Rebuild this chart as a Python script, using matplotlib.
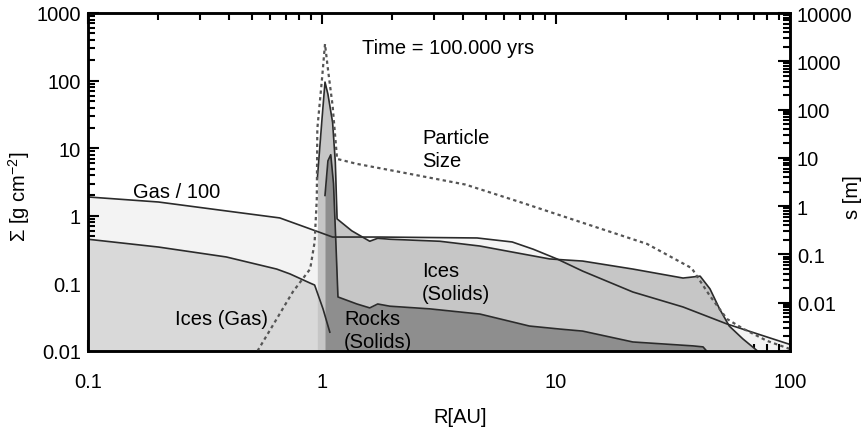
import numpy as np
import matplotlib.pyplot as plt
from matplotlib.ticker import LogLocator, NullFormatter, FixedLocator, FixedFormatter

plt.rcParams['font.family'] = ['Liberation Sans', 'DejaVu Sans']
plt.rcParams['mathtext.fontset'] = 'custom'
plt.rcParams['mathtext.rm'] = 'Liberation Sans'
plt.rcParams['mathtext.default'] = 'regular'

FS = 14.5

# gas surface density / 100
r_gas = [0.1, 0.2, 0.39, 0.66, 0.89, 1.11, 1.77, 4.6, 6.5, 8.0, 10.1, 13.0, 21.3, 34.9, 53.8, 79.8, 100]
sig_gas = [1.90, 1.60, 1.18, 0.93, 0.64, 0.485, 0.485, 0.47, 0.41, 0.32, 0.23, 0.152, 0.0746,
           0.0448, 0.0251, 0.0161, 0.0125]

# ices in the gas phase (inside the snow line)
r_ice_gas = [0.1, 0.2, 0.39, 0.64, 0.73, 0.89, 0.93, 1.01, 1.08]
sig_ice_gas = [0.45, 0.345, 0.246, 0.163, 0.138, 0.101, 0.0946, 0.042, 0.019]

# ices as solids (spike at the snow line, then the outer disk)
r_ice_sol = [0.955, 1.0, 1.03, 1.06, 1.11, 1.14, 1.16, 1.34, 1.60, 1.73, 1.95, 3.19, 4.73, 6.5,
             9.4, 13.0, 21.3, 34.9, 41.3, 45.5, 50.0, 55.0, 62.9, 76.3, 85]
sig_ice_sol = [3.5, 27, 95, 63, 24, 6.2, 0.9, 0.60, 0.42, 0.465, 0.45, 0.42, 0.357, 0.291,
               0.23, 0.214, 0.163, 0.12, 0.128, 0.083, 0.042, 0.0234, 0.0151, 0.0087, 0.004]

# rocks (solids)
r_rock = [1.03, 1.06, 1.09, 1.12, 1.15, 1.17, 1.41, 1.60, 1.73, 1.95, 2.89, 4.73, 7.7, 10.4,
          13.0, 21.3, 38.5, 42.5, 45.5, 48]
sig_rock = [2.0, 6.5, 8.0, 3.0, 0.3, 0.063, 0.0496, 0.0434, 0.0496, 0.046, 0.042, 0.0352, 0.0234,
            0.0211, 0.0197, 0.0136, 0.0119, 0.0115, 0.0088, 0.005]

# particle size [m]
r_size = [0.53, 0.64, 0.75, 0.89, 0.93, 0.95, 0.955, 1.0, 1.03, 1.06, 1.11, 1.16, 1.41, 2.15,
          4.1, 7.0, 12.7, 24.5, 38.0, 45.5, 53.8, 63, 79.8, 100]
size = [0.001, 0.0046, 0.0167, 0.05, 0.18, 1.41, 40, 430, 2280, 690, 120, 9.5, 7.5, 5.1,
        2.8, 1.22, 0.47, 0.165, 0.052, 0.0138, 0.0046, 0.0029, 0.00162, 0.0011]

fig = plt.figure(figsize=(8.65, 4.35), dpi=100)
ax = fig.add_axes([88 / 865, 1 - 352 / 435, 702 / 865, 338 / 435])

ax.fill_between(r_gas, 1e-4, sig_gas, color='#f3f3f3', lw=0, zorder=1)
ax.fill_between(r_ice_gas, 1e-4, sig_ice_gas, color='#d9d9d9', lw=0, zorder=2)
ax.fill_between(r_ice_sol, 1e-4, sig_ice_sol, color='#c6c6c6', lw=0, zorder=3)
ax.fill_between(r_rock, 1e-4, sig_rock, color='#8e8e8e', lw=0, zorder=4)

line_kw = dict(color='#2b2b2b', lw=1.2, zorder=6)
ax.plot(r_gas, sig_gas, **line_kw)
ax.plot(r_ice_gas, sig_ice_gas, **line_kw)
ax.plot(r_ice_sol, sig_ice_sol, **line_kw)
ax.plot(r_rock, sig_rock, **line_kw)

ax.set_xscale('log')
ax.set_yscale('log')
ax.set_xlim(0.1, 100)
ax.set_ylim(0.01, 1000)

ax2 = ax.twinx()
ax2.set_yscale('log')
ax2.set_ylim(1e-3, 1e4)
ax2.plot(r_size, size, color='#555555', lw=1.6, ls=(0, (1.5, 1.5)), zorder=7)

ax.xaxis.set_major_locator(FixedLocator([0.1, 1, 10, 100]))
ax.xaxis.set_major_formatter(FixedFormatter(['0.1', '1', '10', '100']))
ax.yaxis.set_major_locator(FixedLocator([0.01, 0.1, 1, 10, 100, 1000]))
ax.yaxis.set_major_formatter(FixedFormatter(['0.01', '0.1', '1', '10', '100', '1000']))
ax2.yaxis.set_major_locator(FixedLocator([1e-3, 1e-2, 0.1, 1, 10, 100, 1000, 1e4]))
ax2.yaxis.set_major_formatter(FixedFormatter(['', '0.01', '0.1', '1', '10', '100', '1000', '10000']))
for a in (ax.xaxis, ax.yaxis, ax2.yaxis):
    a.set_minor_locator(LogLocator(base=10, subs=np.arange(2, 10), numticks=20))
    a.set_minor_formatter(NullFormatter())

ax.tick_params(which='both', direction='in', top=True, right=False, width=1.5,
               labelsize=FS, pad=5)
ax.tick_params(axis='x', which='both', pad=15)
ax.tick_params(which='major', length=8)
ax.tick_params(which='minor', length=5)
ax2.tick_params(which='both', direction='in', width=1.5, labelsize=FS, pad=5)
ax2.tick_params(which='major', length=9)
ax2.tick_params(which='minor', length=5)

for a in (ax, ax2):
    for s in a.spines.values():
        s.set_linewidth(1.8)
        s.set_zorder(10)


def label(x, y, s, **kw):
    fig.text(x / 865, 1 - y / 435, s, fontsize=FS, zorder=20, **kw)


label(422, 150, 'Particle\nSize', ha='left', va='center', linespacing=1.25)
label(177, 193, 'Gas / 100', ha='center', va='center')
label(222, 320, 'Ices (Gas)', ha='center', va='center')
label(422, 283, 'Ices\n(Solids)', ha='left', va='center', linespacing=1.25)
label(344, 331, 'Rocks\n(Solids)', ha='left', va='center', linespacing=1.25)
label(448, 48, 'Time = 100.000 yrs', ha='center', va='center')
label(19, 197, r'$\Sigma$ [g cm$^{-2}$]', ha='center', va='center', rotation=90)
label(852, 197, 's [m]', ha='center', va='center', rotation=90)
label(460, 418, 'R[AU]', ha='center', va='center')

fig.savefig('out.png', dpi=100)
